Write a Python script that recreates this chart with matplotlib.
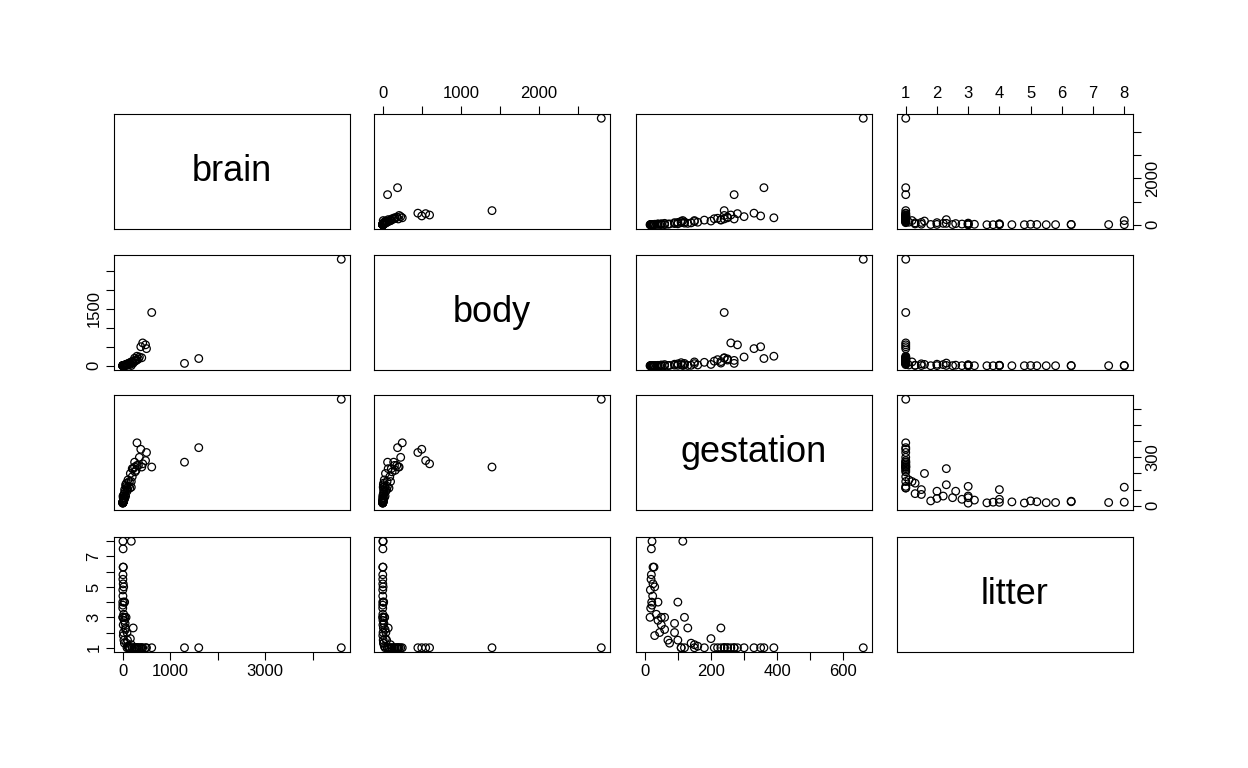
import matplotlib
matplotlib.use("Agg")
import matplotlib.pyplot as plt

plt.rcParams['font.family'] = ['Liberation Sans', 'DejaVu Sans']

names = ["brain", "body", "gestation", "litter"]

# values, one entry per animal
brain = [4600, 1300, 1600, 610, 420, 480, 500, 380, 300, 330, 250, 280, 350, 260, 200, 180,
         150, 120, 100, 90, 60, 45, 30, 20, 12, 8, 5, 3, 2, 1, 0.5, 0.3, 6, 10, 15, 25,
         40, 70, 180, 10, 5, 20, 30, 12, 60, 80, 110, 160, 220, 8, 4, 2, 300, 200, 250,
         90, 140, 50, 35, 400]
body = [2800, 62, 190, 1400, 600, 550, 450, 500, 250, 180, 200, 160, 230, 120, 90, 100,
        80, 60, 50, 40, 30, 20, 10, 5, 3, 2, 1, 0.5, 0.2, 0.1, 0.05, 0.02, 1, 2, 4, 6,
        12, 25, 6, 0.5, 0.3, 1.5, 3, 1, 8, 12, 20, 35, 70, 0.8, 0.4, 0.1, 150, 110, 140,
        30, 55, 15, 9, 210]
gestation = [660, 270, 360, 240, 260, 280, 330, 350, 390, 250, 240, 220, 300, 210, 180, 150,
             110, 120, 100, 90, 60, 50, 40, 30, 25, 20, 22, 19, 17, 21, 18, 16, 60, 50, 45, 70,
             100, 120, 115, 25, 20, 35, 40, 30, 130, 140, 160, 200, 230, 28, 24, 22, 250, 230, 270,
             110, 150, 90, 75, 240]
litter = [1, 1, 1, 1, 1, 1, 1, 1, 1, 1, 1, 1, 1, 1, 1, 1.2,
          1, 1, 1.5, 2, 2.2, 3, 4, 5, 6.3, 7.5, 8, 5.5, 4.8, 4, 3.6, 3, 3, 2.5, 2, 1.5,
          4, 3, 8, 5.2, 5.8, 3.2, 2.8, 1.8, 2.3, 1.3, 1.1, 1.6, 2.3, 6.3, 4.4, 3.8, 1, 1, 1,
          1, 1, 2.6, 1.3, 1]
data = [brain, body, gestation, litter]

lims = [(0, 4600), (0, 2800), (0, 660), (1, 8)]
ticks = [[0, 1000, 2000, 3000, 4000], [0, 500, 1000, 1500, 2000, 2500],
         [0, 100, 200, 300, 400, 500, 600], [1, 2, 3, 4, 5, 6, 7, 8]]
xlabs = [{0: "0", 1000: "1000", 3000: "3000"}, {0: "0", 1000: "1000", 2000: "2000"},
         {0: "0", 200: "200", 400: "400", 600: "600"}, {t: str(t) for t in range(1, 9)}]
ylabs = [{0: "0", 2000: "2000"}, {0: "0", 1500: "1500"},
         {0: "0", 300: "300"}, {1: "1", 3: "3", 5: "5", 7: "7"}]

W, H = 1248, 768
fig = plt.figure(figsize=(12.48, 7.68), dpi=100)
xs = [114, 374, 636, 897]
ys = [114, 255, 395, 537]
pw, ph = 236, 115

def pad(lo, hi):
    d = (hi - lo) * 0.04
    return lo - d, hi + d

for r in range(4):
    for c in range(4):
        ax = fig.add_axes([xs[c] / W, 1 - (ys[r] + ph) / H, pw / W, ph / H])
        ax.set_xlim(pad(*lims[c]))
        ax.set_ylim(pad(*lims[r]))
        for s in ax.spines.values():
            s.set_linewidth(0.8)
        if r == c:
            ax.text(0.5, 0.5, names[r], transform=ax.transAxes, ha='center', va='center', fontsize=26)
        else:
            ax.scatter(data[c], data[r], s=30, facecolors='none', edgecolors='black', linewidths=0.9)
        ax.set_xticks([]); ax.set_yticks([])
        if (r == 0 and c % 2 == 1) or (r == 3 and c % 2 == 0):
            ax.set_xticks(ticks[c])
            ax.set_xticklabels([xlabs[c].get(t, "") for t in ticks[c]], fontsize=12)
            if r == 0:
                ax.xaxis.tick_top()
        if (c == 0 and r % 2 == 1) or (c == 3 and r % 2 == 0):
            ax.set_yticks(ticks[r])
            ax.set_yticklabels([ylabs[r].get(t, "") for t in ticks[r]], fontsize=12, rotation=90, va='center')
            if c == 3:
                ax.yaxis.tick_right()
        ax.tick_params(length=6, width=0.8, pad=3)

fig.savefig("out.png", dpi=100, facecolor="white")
